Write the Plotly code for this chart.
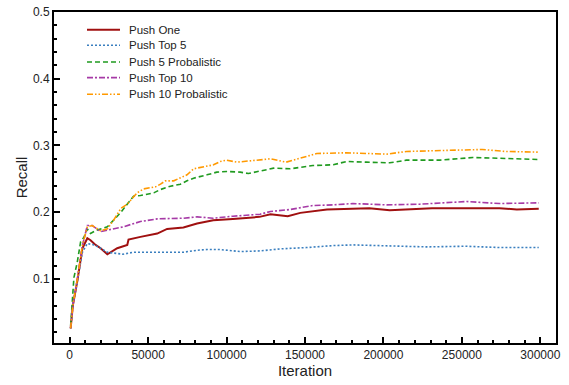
import plotly.graph_objects as go

push_one_x = [600, 2000, 4900, 8100, 11250, 13300, 16000, 19700, 24000, 27000, 30300, 36700, 37500, 45100,
              55800, 62100, 72500, 81200, 91500, 104000, 121000, 128000, 139000, 147000,
              164000, 191000, 204000, 231000, 274000, 285000, 299000]
push_one_y = [0.026, 0.060, 0.097, 0.146, 0.161, 0.158, 0.152, 0.146, 0.137, 0.141, 0.146, 0.151, 0.159, 0.163,
              0.168, 0.175, 0.177, 0.183, 0.188, 0.190, 0.193, 0.197, 0.194, 0.199,
              0.204, 0.206, 0.203, 0.206, 0.206, 0.204, 0.205]

top5_x = [600, 2000, 4900, 8100, 11250, 15500, 19700, 24000, 34000, 40700, 55800, 72500, 81200,
          87500, 96000, 108700, 121400, 134000, 151000, 168000, 180500, 200000, 227500,
          253000, 274000, 299000]
top5_y = [0.026, 0.060, 0.097, 0.140, 0.153, 0.151, 0.146, 0.140, 0.137, 0.140, 0.140, 0.140, 0.143,
          0.144, 0.144, 0.141, 0.142, 0.145, 0.147, 0.150, 0.151, 0.150, 0.148,
          0.149, 0.147, 0.147]

p5_x = [600, 1700, 2700, 4900, 7000, 9000, 11250, 13300, 17000, 24000, 32700, 40700, 45100, 53600, 57900,
        64200, 70600, 74800, 79000, 87500, 93800, 100000, 108700, 114000, 130000, 140500, 155000,
        168000, 176500, 189000, 204000, 214600, 236000, 257000, 278000, 299000]
p5_y = [0.030, 0.072, 0.102, 0.126, 0.156, 0.162, 0.175, 0.168, 0.173, 0.178, 0.200, 0.224, 0.225, 0.229, 0.234,
        0.239, 0.242, 0.247, 0.251, 0.256, 0.260, 0.261, 0.260, 0.258, 0.266, 0.265, 0.270,
        0.271, 0.276, 0.275, 0.274, 0.278, 0.278, 0.282, 0.281, 0.279]

top10_x = [600, 2000, 4900, 8100, 11250, 14400, 19700, 24000, 34000, 45100, 55800, 72500, 81200,
           91500, 104000, 121400, 128000, 140500, 155000, 168000, 180500, 202000, 223000,
           253000, 274000, 299000]
top10_y = [0.026, 0.060, 0.100, 0.150, 0.180, 0.180, 0.171, 0.173, 0.178, 0.186, 0.190, 0.191, 0.193,
           0.191, 0.194, 0.197, 0.201, 0.204, 0.210, 0.211, 0.213, 0.211, 0.212,
           0.216, 0.213, 0.214]

p10_x = [600, 2000, 4900, 8100, 11250, 14400, 19700, 24000, 28000, 32700, 36700, 43000, 47200, 51500,
         54700, 57900, 61000, 66300, 70600, 74800, 79000, 85400, 91700, 96000, 100000, 106600,
         119000, 128000, 138000, 151000, 157500, 176500, 202000, 214600, 236000, 263000, 278000, 299000]
p10_y = [0.026, 0.060, 0.100, 0.150, 0.178, 0.180, 0.172, 0.175, 0.188, 0.206, 0.212, 0.229, 0.235, 0.237,
         0.238, 0.242, 0.247, 0.247, 0.252, 0.256, 0.265, 0.268, 0.271, 0.276, 0.278, 0.275,
         0.278, 0.280, 0.275, 0.283, 0.288, 0.289, 0.287, 0.291, 0.292, 0.294, 0.291, 0.290]

names = ["Push One", "Push Top 5", "Push 5 Probalistic", "Push Top 10", "Push 10 Probalistic"]
xs_all = [push_one_x, top5_x, p5_x, top10_x, p10_x]
ys_all = [push_one_y, top5_y, p5_y, top10_y, p10_y]
colors = ["#a01010", "#3a7fbf", "#1f9a1f", "#a63aa6", "#ff9900"]
dashes = ["solid", "2px,2px", "5px,3px", "6px,2px,2px,2px", "6px,2px,1.5px,2px,1.5px,2px"]
widths = [2, 1.6, 1.6, 1.6, 1.6]

FONT = "Liberation Sans, Arial"
W, H = 569, 385
ML, MR, MT, MB = 54, 13, 5, 42
PW, PH = W - ML - MR, H - MT - MB


def px2paper_x(px):
    return (px - ML) / PW


def px2paper_y(py):
    return (H - MB - py) / PH


fig = go.Figure()
for name, xs, ys, color, dash, w in zip(names, xs_all, ys_all, colors, dashes, widths):
    fig.add_trace(go.Scatter(x=xs, y=ys, mode="lines", name=name, showlegend=False,
                             line=dict(color=color, dash=dash, width=w)))

# legend drawn manually (tight row spacing)
leg_rows = [23, 39, 56, 72, 89]
for name, color, dash, w, row in zip(names, colors, dashes, widths, leg_rows):
    yp = px2paper_y(row)
    fig.add_shape(type="line", xref="paper", yref="paper",
                  x0=px2paper_x(87), x1=px2paper_x(120), y0=yp, y1=yp,
                  line=dict(color=color, dash=dash, width=w))
    fig.add_annotation(xref="paper", yref="paper", x=px2paper_x(127), y=yp,
                       xanchor="left", yanchor="middle", showarrow=False, text=name,
                       font=dict(family=FONT, size=11.5, color="#222"))

axis_common = dict(showline=True, linecolor="black", linewidth=2, mirror=True,
                   ticks="inside", ticklen=6, tickwidth=1.5, tickcolor="black",
                   showgrid=False, zeroline=False,
                   tickfont=dict(family=FONT, size=12, color="#222"))

fig.update_xaxes(range=[-10000, 310000], tickvals=[0, 50000, 100000, 150000, 200000, 250000, 300000],
                 tickformat="d",
                 minor=dict(ticks="inside", ticklen=3, tickcolor="black", dtick=10000, tick0=0),
                 title=dict(text="Iteration", font=dict(family=FONT, size=15, color="#222"), standoff=4),
                 **axis_common)
fig.update_yaxes(range=[0.004, 0.5], tickvals=[0.1, 0.2, 0.3, 0.4, 0.5],
                 minor=dict(ticks="inside", ticklen=3, tickcolor="black", dtick=0.02, tick0=0),
                 title=dict(text="Recall", font=dict(family=FONT, size=15, color="#222"), standoff=2),
                 **axis_common)

fig.update_layout(
    width=W, height=H,
    margin=dict(l=ML, r=MR, t=MT, b=MB),
    plot_bgcolor="white", paper_bgcolor="white",
    showlegend=False,
)

fig.write_html("out.html")
